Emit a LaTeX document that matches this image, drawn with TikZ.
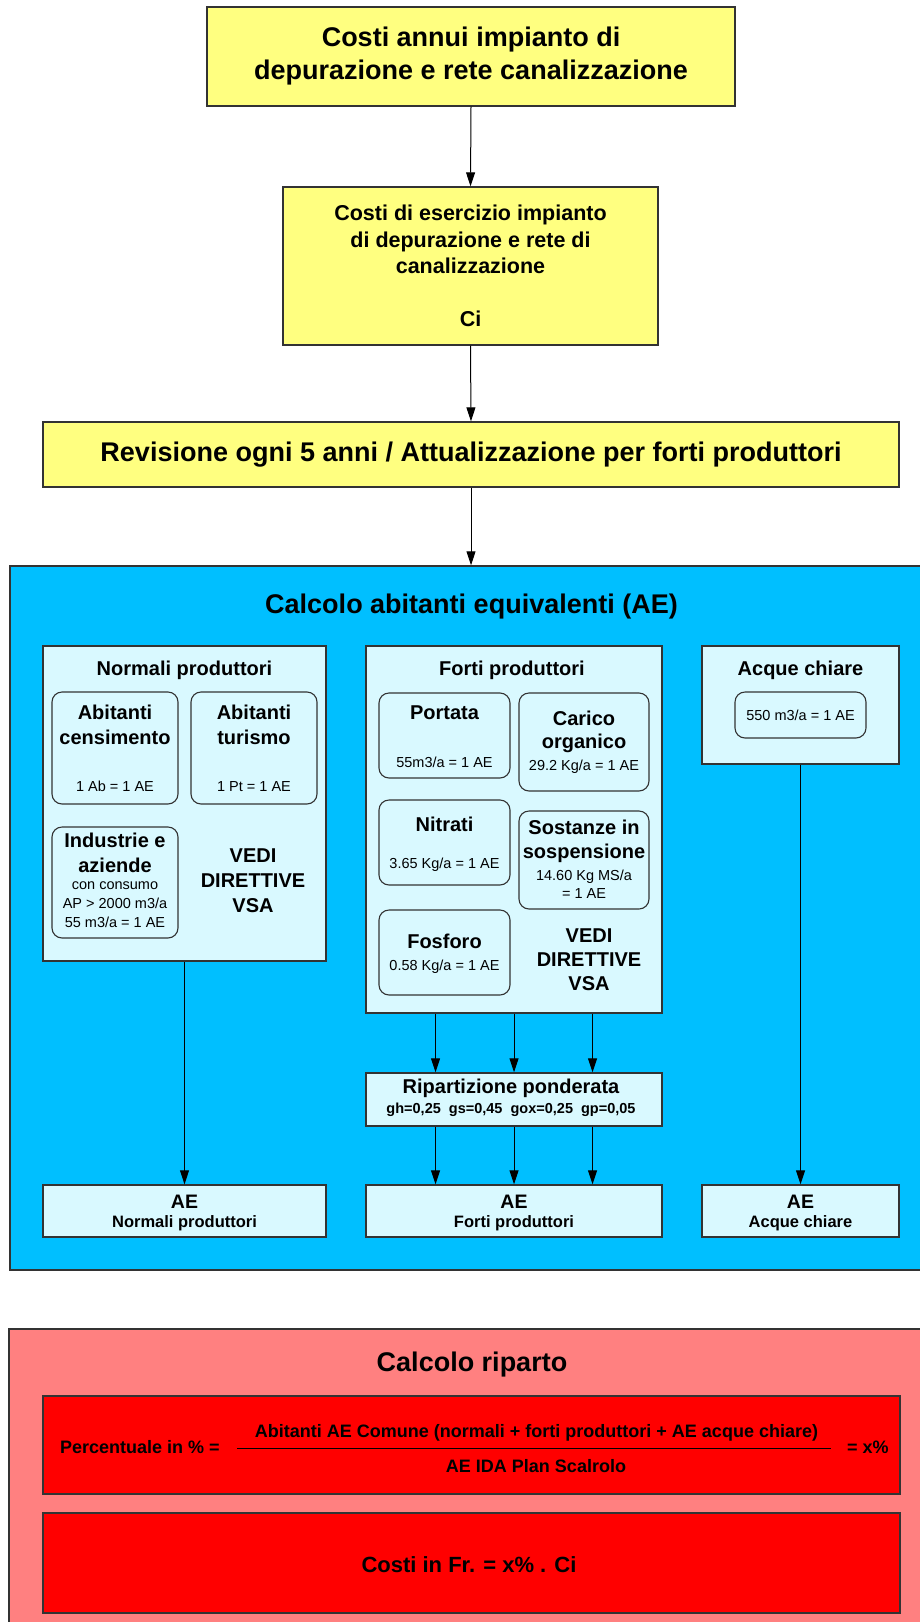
\documentclass[tikz,border=0pt]{standalone}
\usepackage{fontspec}
\setmainfont{Liberation Sans}
\usetikzlibrary{arrows.meta}

\definecolor{yellowbox}{RGB}{255,255,128}
\definecolor{skyblue}{RGB}{0,191,255}
\definecolor{palecyan}{RGB}{217,249,255}
\definecolor{salmon}{RGB}{255,128,128}
\definecolor{edge}{RGB}{51,51,51}

\newcommand{\fsz}[2]{\fontsize{#1}{#2}\selectfont}

\tikzset{
  box/.style={draw=edge, line width=1.4pt, inner sep=0pt, align=center},
  ybox/.style={box, fill=yellowbox},
  panel/.style={box, fill=palecyan},
  rbox/.style={box, fill=palecyan, rounded corners=10pt, line width=1.1pt},
  txt/.style={inner sep=0pt, align=center},
  head/.style={txt, font=\fsz{20}{25}\bfseries},
  valtxt/.style={txt, font=\fsz{14.5}{19}},
  arr/.style={-{Triangle[length=14pt,width=9pt]}, line width=1pt}
}

\begin{document}
\begin{tikzpicture}[x=1pt,y=-1pt]
\useasboundingbox (0,0) rectangle (919,1622);
\fill[white] (0,0) rectangle (919,1622);

% yellow chain
\node[ybox, minimum width=528pt, minimum height=99pt, font=\fsz{27}{33}\bfseries] (costi) at (471,56.5)
  {Costi annui impianto di\\depurazione e rete canalizzazione};
\node[ybox, minimum width=375pt, minimum height=158pt, font=\fsz{21.5}{26.5}\bfseries] (esercizio) at (470.5,266)
  {Costi di esercizio impianto\\di depurazione e rete di\\canalizzazione\\[26.5pt]Ci};
\node[ybox, minimum width=856pt, minimum height=65pt, font=\fsz{27}{33}\bfseries] (revisione) at (471,454.5)
  {Revisione ogni 5 anni / Attualizzazione per forti produttori};

% abitanti equivalenti
\node[box, fill=skyblue, minimum width=920pt, minimum height=704pt] (calcAE) at (470,918) {};
\node[txt, anchor=base, font=\fsz{27}{33}\bfseries] (calcAEtit) at (471.5,613) {Calcolo abitanti equivalenti (AE)};

\node[panel, minimum width=283pt, minimum height=315pt] (normali) at (184.5,803.5) {};
\node[panel, minimum width=296pt, minimum height=367pt] (forti) at (514,829.5) {};
\node[panel, minimum width=197pt, minimum height=118pt] (acque) at (800.5,705) {};
\node[head, anchor=base] (normalitit) at (184.5,675) {Normali produttori};
\node[head, anchor=base] (fortitit) at (512,675) {Forti produttori};
\node[head, anchor=base] (acquetit) at (800.5,675) {Acque chiare};

% normali produttori
\node[rbox, minimum width=126pt, minimum height=112pt] (cens) at (115,748) {};
\node[rbox, minimum width=126pt, minimum height=112pt] (tur) at (254,748) {};
\node[rbox, minimum width=126pt, minimum height=111pt] (ind) at (115,882.5) {};
\node[head, anchor=north] (censtit) at (115,704.6) {Abitanti\\censimento};
\node[valtxt, anchor=base] (censval) at (115,791) {1 Ab = 1 AE};
\node[head, anchor=north] (turtit) at (254,704.6) {Abitanti\\turismo};
\node[valtxt, anchor=base] (turval) at (254,791) {1 Pt = 1 AE};
\node[head, anchor=north] (indtit) at (115,832.6) {Industrie e\\aziende};
\node[valtxt, anchor=north] (indval) at (115,881.6) {con consumo\\AP > 2000 m3/a\\55 m3/a = 1 AE};
\node[head, anchor=north] (vsaN) at (253,848.6) {VEDI\\DIRETTIVE\\VSA};

% forti produttori
\node[rbox, minimum width=131pt, minimum height=85pt] (port) at (444.5,735.5) {};
\node[rbox, minimum width=130pt, minimum height=98pt] (car) at (584,742) {};
\node[rbox, minimum width=131pt, minimum height=85pt] (nit) at (444.5,842.5) {};
\node[rbox, minimum width=130pt, minimum height=98pt] (sos) at (584,860) {};
\node[rbox, minimum width=131pt, minimum height=85pt] (fos) at (444.5,952.5) {};
\node[head, anchor=base] (porttit) at (444.5,719) {Portata};
\node[valtxt, anchor=base] (portval) at (444.5,767) {55m3/a = 1 AE};
\node[head, anchor=north, font=\fsz{20}{23}\bfseries] (cartit) at (584,710.6) {Carico\\organico};
\node[valtxt, anchor=base] (carval) at (584,770) {29.2 Kg/a = 1 AE};
\node[head, anchor=base] (nittit) at (444.5,831) {Nitrati};
\node[valtxt, anchor=base] (nitval) at (444.5,868) {3.65 Kg/a = 1 AE};
\node[head, anchor=north, font=\fsz{20}{24}\bfseries] (sostit) at (584,819.6) {Sostanze in\\sospensione};
\node[valtxt, anchor=north, font=\fsz{14.5}{18}] (sosval) at (584,869.6) {14.60 Kg MS/a\\= 1 AE};
\node[head, anchor=base] (fostit) at (444.5,948) {Fosforo};
\node[valtxt, anchor=base] (fosval) at (444.5,970) {0.58 Kg/a = 1 AE};
\node[head, anchor=north, font=\fsz{20}{24}\bfseries] (vsaF) at (589,928.6) {VEDI\\DIRETTIVE\\VSA};

% acque chiare
\node[rbox, minimum width=131pt, minimum height=46pt, font=\fsz{14.5}{19}] (acqueval) at (800.5,715) {550 m3/a = 1 AE};

% ripartizione e risultati
\node[panel, minimum width=296pt, minimum height=53pt] (ripart) at (514,1099.5) {};
\node[head, anchor=base] (riparttit) at (511,1093) {Ripartizione ponderata};
\node[valtxt, anchor=base, font=\fsz{14.5}{19}\bfseries] (ripartval) at (511,1113)
  {gh=0,25\ \ gs=0,45\ \ gox=0,25\ \ gp=0,05};

\node[panel, minimum width=283pt, minimum height=52pt] (aeNormali) at (184.5,1211) {};
\node[panel, minimum width=296pt, minimum height=52pt] (aeForti) at (514,1211) {};
\node[panel, minimum width=197pt, minimum height=52pt] (aeAcque) at (800.5,1211) {};
\foreach \n/\cx/\sub in {aeNormali/184.5/Normali produttori, aeForti/514/Forti produttori, aeAcque/800.5/Acque chiare} {
  \node[txt, anchor=base, font=\fsz{19.5}{24}\bfseries] (\n tit) at (\cx,1208) {AE};
  \node[txt, anchor=base, font=\fsz{16.5}{20}\bfseries] (\n sub) at (\cx,1227) {\sub};
}

% connettori
\draw[arr] (costi.south) -- (esercizio.north);
\draw[arr] (esercizio.south) -- (revisione.north);
\draw[arr] (revisione.south) -- (revisione.south |- calcAE.north);
\draw[arr] (normali.south) -- (aeNormali.north);
\draw[arr] (acque.south) -- (aeAcque.north);
\foreach \dx in {-78.5,0,78.5} {
  \draw[arr] ([xshift=\dx pt]forti.south) -- ([xshift=\dx pt]ripart.north);
  \draw[arr] ([xshift=\dx pt]ripart.south) -- ([xshift=\dx pt]aeForti.north);
}

% calcolo riparto
\node[box, fill=salmon, minimum width=921pt, minimum height=301pt] (riparto) at (469.5,1479.5) {};
\node[txt, anchor=base, font=\fsz{27}{33}\bfseries] (ripartotit) at (472,1371) {Calcolo riparto};
\node[box, fill=red, minimum width=857pt, minimum height=98pt] (formula) at (471.5,1445) {};
\node[box, fill=red, minimum width=857pt, minimum height=100pt] (costiFr) at (471.5,1563) {};
\node[txt, anchor=base west, font=\fsz{18}{22}\bfseries] (perc) at (60,1453) {Percentuale in \% =};
\node[txt, anchor=base, font=\fsz{18}{22}\bfseries] (numer) at (536.5,1437)
  {Abitanti AE Comune (normali + forti produttori + AE acque chiare)};
\node[txt, anchor=base, font=\fsz{18}{22}\bfseries] (denom) at (536,1472) {AE IDA Plan Scalrolo};
\node[txt, anchor=base west, font=\fsz{18}{22}\bfseries] (xperc) at (847,1453) {= x\%};
\coordinate (fracL) at (237,1448);
\coordinate (fracR) at (831,1448);
\draw[line width=0.8pt] (fracL) -- (fracR);
\node[txt, anchor=base, font=\fsz{22}{26}\bfseries] (costiFrtxt) at (469,1572) {Costi in Fr. = x\% . Ci};
\end{tikzpicture}
\end{document}
